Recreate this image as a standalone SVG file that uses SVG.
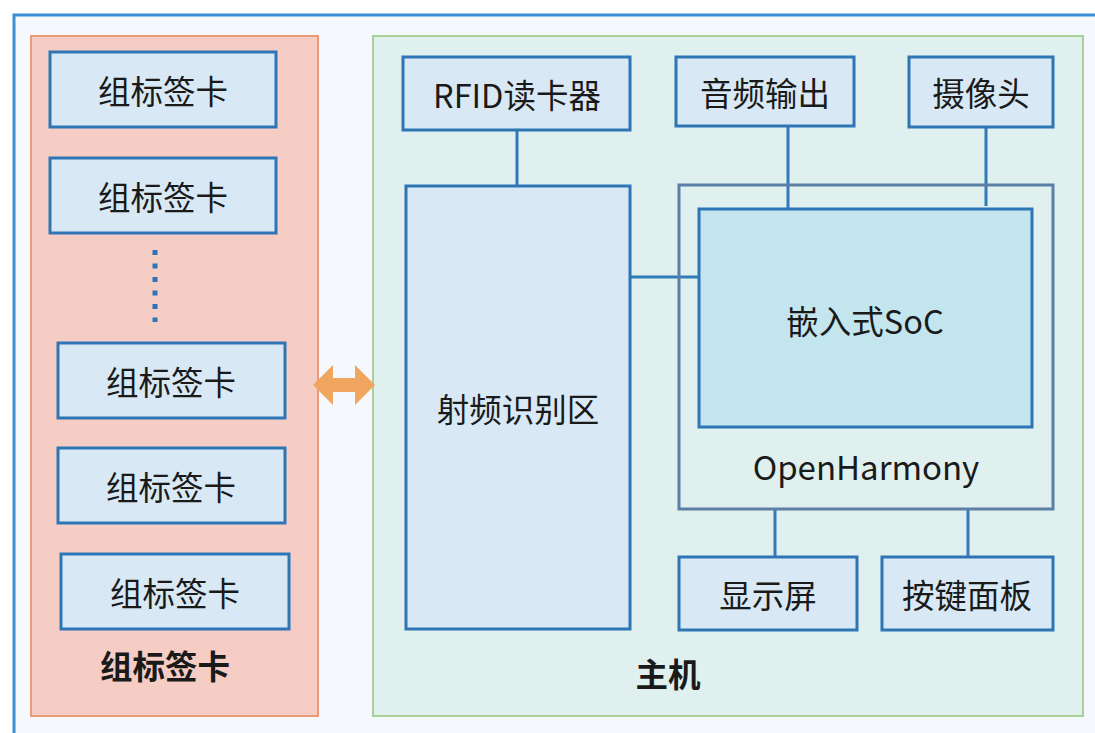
<svg xmlns="http://www.w3.org/2000/svg" width="1095" height="733" viewBox="0 0 1095 733">
<defs>
<style>
.t{font-family:"Noto Sans CJK SC","Noto Sans",sans-serif;font-size:32.5px;fill:#1a1a1a;text-anchor:middle;dominant-baseline:central}
.b{font-weight:bold}
.box{fill:#d8e9f5;stroke:#2e75b6;stroke-width:3}
.ln{stroke:#2e7bb8;stroke-width:3;fill:none}
</style>
</defs>
<rect x="0" y="0" width="1095" height="733" fill="#ffffff"/>
<rect x="14" y="15" width="1100" height="740" fill="#f5f9fd" stroke="#3b8fd4" stroke-width="3"/>
<g id="tags-panel">
<rect x="31" y="36" width="287" height="680" fill="#f5cdc4" stroke="#ec9b78" stroke-width="2"/>
<text class="t b" x="165" y="664">组标签卡</text>
</g>
<g id="host-panel">
<rect x="373" y="36" width="710" height="680" fill="#dff0ee" stroke="#a9d19c" stroke-width="2"/>
<text class="t b" x="668" y="672">主机</text>
</g>
<g id="card1"><rect class="box" x="50" y="52" width="226" height="75"/><text class="t" x="163" y="89">组标签卡</text></g>
<g id="card2"><rect class="box" x="50" y="158" width="226" height="75"/><text class="t" x="163" y="195">组标签卡</text></g>
<g id="dots"><line x1="155" y1="250" x2="155" y2="322" stroke="#2e75b6" stroke-width="5" stroke-dasharray="5 8.5"/></g>
<g id="card3"><rect class="box" x="58" y="343" width="227" height="75"/><text class="t" x="171" y="380">组标签卡</text></g>
<g id="card4"><rect class="box" x="58" y="448" width="227" height="75"/><text class="t" x="171" y="485">组标签卡</text></g>
<g id="card5"><rect class="box" x="61" y="554" width="228" height="75"/><text class="t" x="175" y="591">组标签卡</text></g>
<g id="connectors">
<polygon points="313,385 333,365 333,378 355,378 355,365 375,385 355,405 355,392 333,392 333,405" fill="#f0a65e"/>
<line class="ln" x1="517" y1="130" x2="517" y2="186"/>
<line class="ln" x1="788" y1="126" x2="788" y2="209"/>
<line class="ln" x1="986" y1="127" x2="986" y2="206"/>
<line class="ln" x1="630" y1="277" x2="699" y2="277"/>
<line class="ln" x1="775" y1="509" x2="775" y2="557"/>
<line class="ln" x1="968" y1="509" x2="968" y2="557"/>
</g>
<g id="rfid"><rect class="box" x="403" y="57" width="227" height="73"/><text class="t" x="517" y="93">RFID读卡器</text></g>
<g id="audio"><rect class="box" x="676" y="57" width="178" height="69"/><text class="t" x="765" y="91">音频输出</text></g>
<g id="camera"><rect class="box" x="909" y="57" width="144" height="70"/><text class="t" x="981" y="91">摄像头</text></g>
<g id="rf-zone"><rect class="box" x="406" y="186" width="224" height="443"/><text class="t" x="518" y="407">射频识别区</text></g>
<g id="openharmony"><rect x="679" y="185" width="374" height="324" fill="none" stroke="#5b7fa6" stroke-width="3"/><text class="t" x="866" y="466" style="font-size:33px">OpenHarmony</text></g>
<g id="soc"><rect x="699" y="209" width="333" height="218" fill="#c3e5ee" stroke="#2e75b6" stroke-width="3"/><text class="t" x="865" y="319">嵌入式SoC</text></g>
<g id="display"><rect class="box" x="679" y="557" width="178" height="73"/><text class="t" x="768" y="593">显示屏</text></g>
<g id="keys"><rect class="box" x="882" y="557" width="171" height="73"/><text class="t" x="967" y="593">按键面板</text></g>
</svg>
